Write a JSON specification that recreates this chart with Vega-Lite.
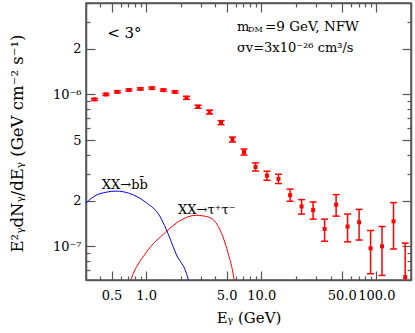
{
  "$schema": "https://vega.github.io/schema/vega-lite/v6.json",
  "width": 325,
  "height": 277,
  "autosize": {"type": "none"},
  "padding": {"left": 86, "top": 3, "right": 4, "bottom": 53},
  "background": "white",
  "config": {"view": {"stroke": "#555", "strokeWidth": 1.5}, "font": "DejaVu Serif"},
  "datasets": {
    "pts": [
      {"E": 0.355, "F": 9.27e-7, "lo": 9.13e-7, "hi": 9.41e-7},
      {"E": 0.447, "F": 1.0e-6, "lo": 0.985e-6, "hi": 1.015e-6},
      {"E": 0.562, "F": 1.04e-6, "lo": 1.024e-6, "hi": 1.056e-6},
      {"E": 0.708, "F": 1.07e-6, "lo": 1.054e-6, "hi": 1.086e-6},
      {"E": 0.891, "F": 1.088e-6, "lo": 1.072e-6, "hi": 1.104e-6},
      {"E": 1.12, "F": 1.10e-6, "lo": 1.083e-6, "hi": 1.117e-6},
      {"E": 1.41, "F": 1.067e-6, "lo": 1.051e-6, "hi": 1.083e-6},
      {"E": 1.78, "F": 1.04e-6, "lo": 1.024e-6, "hi": 1.056e-6},
      {"E": 2.24, "F": 9.5e-7, "lo": 9.28e-7, "hi": 9.72e-7},
      {"E": 2.82, "F": 8.3e-7, "lo": 8.11e-7, "hi": 8.49e-7},
      {"E": 3.55, "F": 7.66e-7, "lo": 7.43e-7, "hi": 7.89e-7},
      {"E": 4.47, "F": 6.52e-7, "lo": 6.32e-7, "hi": 6.72e-7},
      {"E": 5.62, "F": 5.05e-7, "lo": 4.86e-7, "hi": 5.24e-7},
      {"E": 7.08, "F": 4.18e-7, "lo": 3.99e-7, "hi": 4.37e-7},
      {"E": 8.91, "F": 3.33e-7, "lo": 3.13e-7, "hi": 3.54e-7},
      {"E": 11.2, "F": 2.92e-7, "lo": 2.72e-7, "hi": 3.12e-7},
      {"E": 14.1, "F": 2.78e-7, "lo": 2.59e-7, "hi": 2.98e-7},
      {"E": 17.8, "F": 2.17e-7, "lo": 1.98e-7, "hi": 2.38e-7},
      {"E": 22.4, "F": 1.83e-7, "lo": 1.63e-7, "hi": 2.03e-7},
      {"E": 28.2, "F": 1.73e-7, "lo": 1.51e-7, "hi": 1.96e-7},
      {"E": 35.5, "F": 1.30e-7, "lo": 1.08e-7, "hi": 1.51e-7},
      {"E": 44.7, "F": 1.88e-7, "lo": 1.58e-7, "hi": 2.19e-7},
      {"E": 56.2, "F": 1.35e-7, "lo": 1.07e-7, "hi": 1.63e-7},
      {"E": 70.8, "F": 1.44e-7, "lo": 1.10e-7, "hi": 1.75e-7},
      {"E": 89.1, "F": 9.7e-8, "lo": 6.6e-8, "hi": 1.27e-7},
      {"E": 112, "F": 1.0e-7, "lo": 6.43e-8, "hi": 1.35e-7},
      {"E": 141, "F": 1.46e-7, "lo": 9.6e-8, "hi": 1.94e-7},
      {"E": 178, "F": 6.27e-8, "lo": 4.0e-8, "hi": 1.05e-7}
    ],
    "bb": [
      {"E": 0.29, "F": 1.86e-7},
      {"E": 0.30, "F": 1.92e-7},
      {"E": 0.367, "F": 2.17e-7},
      {"E": 0.449, "F": 2.27e-7},
      {"E": 0.548, "F": 2.31e-7},
      {"E": 0.716, "F": 2.23e-7},
      {"E": 1.0, "F": 1.94e-7},
      {"E": 1.31, "F": 1.585e-7},
      {"E": 1.49, "F": 1.30e-7},
      {"E": 1.82, "F": 8.9e-8},
      {"E": 2.31, "F": 6.1e-8},
      {"E": 2.41, "F": 5.3e-8}
    ],
    "tau": [
      {"E": 0.697, "F": 5.3e-8},
      {"E": 0.741, "F": 6.1e-8},
      {"E": 1.0, "F": 9.1e-8},
      {"E": 1.47, "F": 1.235e-7},
      {"E": 1.95, "F": 1.47e-7},
      {"E": 2.72, "F": 1.60e-7},
      {"E": 3.55, "F": 1.55e-7},
      {"E": 4.34, "F": 1.30e-7},
      {"E": 5.13, "F": 9.1e-8},
      {"E": 5.79, "F": 6.1e-8},
      {"E": 5.94, "F": 5.3e-8}
    ]
  },
  "layer": [
    {
      "encoding": {
        "x": {
          "field": "E", "type": "quantitative",
          "scale": {"type": "log", "domain": [0.3, 200], "nice": false},
          "axis": {
            "orient": "bottom",
            "title": "Eᵧ (GeV)",
            "titleFont": "DejaVu Serif", "titleFontSize": 15, "titleFontWeight": "normal", "titleColor": "#000",
            "titleY": 37, "titleBaseline": "middle",
            "values": [0.3,0.4,0.5,0.6,0.7,0.8,0.9,1,2,3,4,5,6,7,8,9,10,20,30,40,50,60,70,80,90,100,200],
            "labelExpr": "indexof([0.5,1,5,10,50,100], datum.value) >= 0 ? format(datum.value, '.1f') : ''",
            "labelFont": "DejaVu Serif", "labelFontSize": 13, "labelColor": "#000",
            "labelOverlap": false, "labelFlush": false,
            "tickSize": {"condition": {"test": "indexof([0.5,1,5,10,50,100], datum.value) >= 0", "value": -9}, "value": -4},
            "labelPadding": 18,
            "tickColor": "#555", "tickWidth": 1.2,
            "domainColor": "#555", "domainWidth": 1.5,
            "grid": false
          }
        },
        "y": {
          "field": "F", "type": "quantitative",
          "scale": {"type": "log", "domain": [6e-8, 4e-6], "nice": false},
          "axis": {
            "orient": "left",
            "title": "E²ᵧdNᵧ/dEᵧ (GeV cm⁻² s⁻¹)",
            "titleFont": "DejaVu Serif", "titleFontSize": 16.5, "titleFontWeight": "normal", "titleColor": "#000",
            "titleX": -69, "titleY": 140, "titleAlign": "center", "titleBaseline": "middle", "titleAngle": 270,
            "values": [7e-8,8e-8,9e-8,1e-7,2e-7,3e-7,4e-7,5e-7,6e-7,7e-7,8e-7,9e-7,1e-6,2e-6,3e-6,4e-6],
            "labelExpr": "datum.value == 1e-6 ? '10⁻⁶' : datum.value == 1e-7 ? '10⁻⁷' : (datum.value == 2e-6 || datum.value == 2e-7) ? '2' : datum.value == 5e-7 ? '5' : ''",
            "labelFont": "DejaVu Serif", "labelFontSize": 13, "labelColor": "#000",
            "labelOverlap": false, "labelFlush": false,
            "tickSize": {"condition": {"test": "indexof([1e-7,2e-7,5e-7,1e-6,2e-6], datum.value) >= 0", "value": -9}, "value": -4},
            "labelPadding": 14,
            "tickColor": "#555", "tickWidth": 1.2,
            "domainColor": "#555", "domainWidth": 1.5,
            "grid": false
          }
        }
      },
      "layer": [
        {
          "data": {"name": "bb"},
          "mark": {"type": "line", "color": "#0000ff", "strokeWidth": 1, "interpolate": "monotone", "clip": true},
          "encoding": {}
        },
        {
          "data": {"name": "tau"},
          "mark": {"type": "line", "color": "#ff0000", "strokeWidth": 1, "interpolate": "monotone", "clip": true},
          "encoding": {}
        },
        {
          "data": {"name": "pts"},
          "mark": {"type": "rule", "color": "#ff0000", "strokeWidth": 1.5, "clip": true},
          "encoding": {
            "y": {"field": "lo", "type": "quantitative"},
            "y2": {"field": "hi"}
          }
        },
        {
          "data": {"name": "pts"},
          "mark": {"type": "tick", "orient": "horizontal", "color": "#ff0000", "size": 7, "thickness": 1.5, "opacity": 1, "clip": true},
          "encoding": {
            "y": {"field": "lo", "type": "quantitative"}
          }
        },
        {
          "data": {"name": "pts"},
          "mark": {"type": "tick", "orient": "horizontal", "color": "#ff0000", "size": 7, "thickness": 1.5, "opacity": 1, "clip": true},
          "encoding": {
            "y": {"field": "hi", "type": "quantitative"}
          }
        },
        {
          "data": {"name": "pts"},
          "mark": {"type": "square", "color": "#ff0000", "size": 16, "opacity": 1, "filled": true, "clip": true},
          "encoding": {}
        },
        {
          "data": {"values": [
            {"E": 0.412, "F": 2.54e-7, "t": "XX→bb̄"},
            {"E": 1.89, "F": 1.73e-7, "t": "XX→τ⁺τ⁻"},
            {"E": 6.15, "F": 2.02e-6, "t": "σv=3x10⁻²⁶ cm³/s"}
          ]},
          "mark": {"type": "text", "align": "left", "baseline": "middle", "font": "DejaVu Serif", "fontSize": 13, "color": "#000"},
          "encoding": {"text": {"field": "t"}}
        },
        {
          "data": {"values": [{"E": 0.458, "F": 2.52e-6, "t": "<  3°"}]},
          "mark": {"type": "text", "align": "left", "baseline": "middle", "font": "DejaVu Serif", "fontSize": 15, "color": "#000"},
          "encoding": {"text": {"field": "t"}}
        },
        {
          "data": {"values": [{"E": 6.15, "F": 2.79e-6, "t": "m"}]},
          "mark": {"type": "text", "align": "left", "baseline": "middle", "font": "DejaVu Serif", "fontSize": 13, "color": "#000"},
          "encoding": {"text": {"field": "t"}}
        },
        {
          "data": {"values": [{"E": 6.15, "F": 2.79e-6, "t": "DM"}]},
          "mark": {"type": "text", "align": "left", "baseline": "middle", "font": "DejaVu Serif", "fontSize": 8, "dx": 11, "dy": 3, "color": "#000"},
          "encoding": {"text": {"field": "t"}}
        },
        {
          "data": {"values": [{"E": 6.15, "F": 2.79e-6, "t": "=9 GeV, NFW"}]},
          "mark": {"type": "text", "align": "left", "baseline": "middle", "font": "DejaVu Serif", "fontSize": 13.5, "dx": 28, "color": "#000"},
          "encoding": {"text": {"field": "t"}}
        }
      ]
    },
    {
      "data": {"name": "pts"},
      "mark": {"type": "point", "opacity": 0},
      "encoding": {
        "x": {
          "field": "E", "type": "quantitative",
          "axis": {
            "orient": "top", "title": null, "labels": false,
            "values": [0.3,0.4,0.5,0.6,0.7,0.8,0.9,1,2,3,4,5,6,7,8,9,10,20,30,40,50,60,70,80,90,100,200],
            "tickSize": {"condition": {"test": "indexof([0.5,1,5,10,50,100], datum.value) >= 0", "value": -9}, "value": -4},
            "tickColor": "#555", "tickWidth": 1.2,
            "domainColor": "#555", "domainWidth": 1.5,
            "grid": false
          }
        },
        "y": {
          "field": "F", "type": "quantitative",
          "axis": {
            "orient": "right", "title": null, "labels": false,
            "values": [7e-8,8e-8,9e-8,1e-7,2e-7,3e-7,4e-7,5e-7,6e-7,7e-7,8e-7,9e-7,1e-6,2e-6,3e-6,4e-6],
            "tickSize": {"condition": {"test": "indexof([1e-7,2e-7,5e-7,1e-6,2e-6], datum.value) >= 0", "value": -9}, "value": -4},
            "tickColor": "#555", "tickWidth": 1.2,
            "domainColor": "#555", "domainWidth": 1.5,
            "grid": false
          }
        }
      }
    }
  ],
  "resolve": {"axis": {"x": "independent", "y": "independent"}}
}
